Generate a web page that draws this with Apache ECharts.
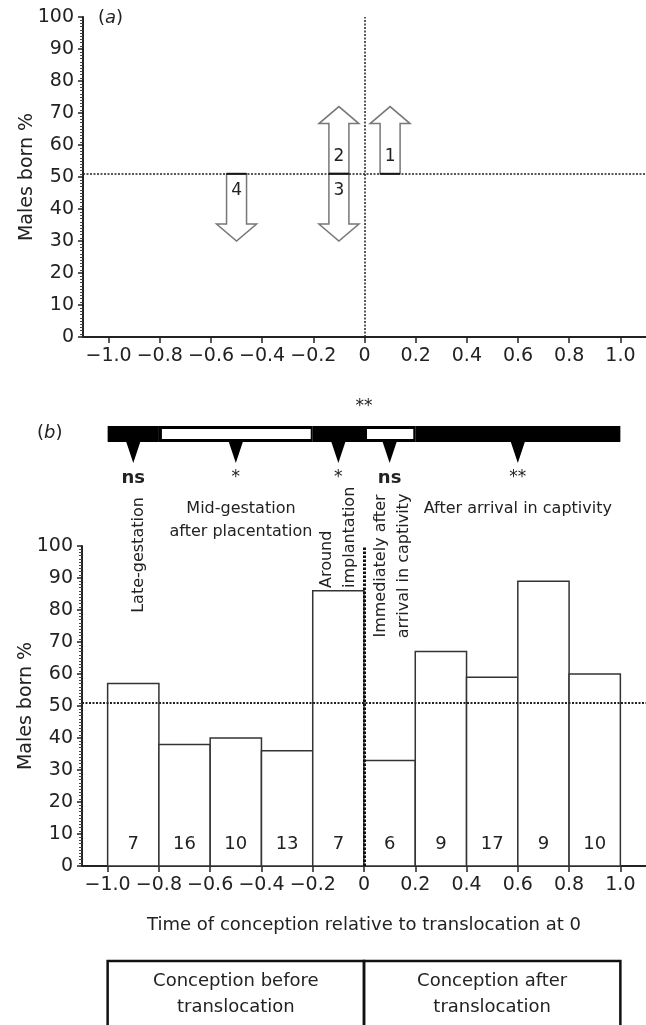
<!DOCTYPE html>
<html><head><meta charset="utf-8">
<script src="https://cdn.jsdelivr.net/npm/echarts@6/dist/echarts.min.js"></script>
<style>html,body{margin:0;padding:0;background:#fff}#c{width:646px;height:1025px}</style>
</head><body><div id="c"></div>
<script>
// ---------- data ----------
const xTickValues = [-1.0, -0.8, -0.6, -0.4, -0.2, 0, 0.2, 0.4, 0.6, 0.8, 1.0];
const xTickLabels = ['−1.0', '−0.8', '−0.6', '−0.4', '−0.2', '0', '0.2', '0.4', '0.6', '0.8', '1.0'];
const parityLevel = 51;

// panel (a): arrows
const arrowX = [0.1, -0.1, -0.1, -0.5];
const arrowFrom = [51, 51, 51, 51];
const arrowTo = [72, 72, 30, 30];
const arrowLabels = ['1', '2', '3', '4'];

// panel (b): histogram bins
const binStart = [-1.0, -0.8, -0.6, -0.4, -0.2, 0, 0.2, 0.4, 0.6, 0.8];
const binEnd = [-0.8, -0.6, -0.4, -0.2, 0, 0.2, 0.4, 0.6, 0.8, 1.0];
const malesPct = [57, 38, 40, 36, 86, 33, 67, 59, 89, 60];
const sampleN = [7, 16, 10, 13, 7, 6, 9, 17, 9, 10];

// panel (b): period bar
const periodStart = [-1.0, -0.8, -0.2, 0, 0.2];
const periodEnd = [-0.8, -0.2, 0, 0.2, 1.0];
const periodShade = ['dark', 'light', 'dark', 'light', 'dark'];
const testX = [-0.9, -0.5, -0.1, 0.1, 0.6];
const testSig = ['ns', '*', '*', 'ns', '**'];
const overallX = [0];
const overallSig = ['**'];
const periodNames = ['Late-gestation', 'Mid-gestation\nafter placentation', 'Around\nimplantation',
  'Immediately after\narrival in captivity', 'After arrival in captivity'];
const periodNameX = [-0.88, -0.48, -0.1, 0.11, 0.6];

// bottom boxes
const groupStart = [-1.0, 0];
const groupEnd = [0, 1.0];
const groupNames = ['Conception before\ntranslocation', 'Conception after\ntranslocation'];

// ---------- style / layout ----------
const FF = 'DejaVu Sans';
const INK = '#222';
const nameLayout = [
  { rot: true, dy: 9, align: 'center' },
  { rot: false, dy: -26, align: 'center' },
  { rot: true, dy: 42, align: 'left' },
  { rot: true, dy: 20, align: 'center' },
  { rot: false, dy: -37, align: 'center' }
];

function xAxisCfg(gridIndex, withName) {
  const a = {
    type: 'value', gridIndex, min: -1.1, max: 1.1,
    axisLine: { show: true, onZero: false, lineStyle: { color: INK, width: 2 } },
    axisTick: { show: true, customValues: xTickValues, length: 6, lineStyle: { color: INK, width: 1.5 } },
    axisLabel: {
      customValues: xTickValues, margin: 10, fontSize: 19, fontFamily: FF, color: INK,
      formatter: v => { const i = xTickValues.findIndex(t => Math.abs(t - v) < 1e-9); return i >= 0 ? xTickLabels[i] : ''; }
    },
    splitLine: { show: false }
  };
  if (withName) {
    a.name = 'Time of conception relative to translocation at 0';
    a.nameLocation = 'middle';
    a.nameGap = 50;
    a.nameMoveOverlap = false;
    a.nameTextStyle = { fontSize: 18, fontFamily: FF, color: INK };
  }
  return a;
}
function yAxisCfg(gridIndex) {
  return {
    type: 'value', gridIndex, min: 0, max: 100, interval: 10,
    name: 'Males born %', nameLocation: 'middle', nameGap: 46, nameMoveOverlap: false,
    nameTextStyle: { fontSize: 19, fontFamily: FF, color: INK },
    axisLine: { show: true, onZero: false, lineStyle: { color: INK, width: 2 } },
    axisTick: { show: true, length: 5, lineStyle: { color: INK, width: 1.5 } },
    minorTick: { show: true, splitNumber: 10, length: 3, lineStyle: { color: '#444', width: 1 } },
    axisLabel: { margin: 9, fontSize: 19, fontFamily: FF, color: INK },
    splitLine: { show: false }, minorSplitLine: { show: false }
  };
}

const chart = echarts.init(document.getElementById('c'), null, { renderer: 'canvas' });

const option = {
  animation: false,
  backgroundColor: '#fff',
  grid: [
    { left: 83, top: 17, width: 565, height: 320 },
    { left: 82, top: 546, width: 566, height: 320 }
  ],
  xAxis: [xAxisCfg(0, false), xAxisCfg(1, true)],
  yAxis: [yAxisCfg(0), yAxisCfg(1)],
  graphic: [
    { type: 'text', left: 98, top: 9, style: { text: '{n|(}{i|a}{n|)}', rich: { n: { fontSize: 18, fontFamily: FF, fill: INK }, i: { fontSize: 18, fontFamily: FF, fontStyle: 'italic', fill: INK } } } },
    { type: 'text', left: 37, top: 424, style: { text: '{n|(}{i|b}{n|)}', rich: { n: { fontSize: 18, fontFamily: FF, fill: INK }, i: { fontSize: 18, fontFamily: FF, fontStyle: 'italic', fill: INK } } } }
  ],
  series: [
    // panel a reference lines
    {
      type: 'line', xAxisIndex: 0, yAxisIndex: 0, data: [], z: 1,
      markLine: {
        silent: true, symbol: ['none', 'none'], label: { show: false }, animation: false,
        lineStyle: { color: INK, width: 1.5, type: [2, 1.5] },
        data: [{ yAxis: parityLevel }, { xAxis: 0 }]
      }
    },
    // panel a arrows
    {
      type: 'custom', xAxisIndex: 0, yAxisIndex: 0, z: 3, clip: false,
      data: arrowX.map((x, i) => [x, arrowFrom[i], arrowTo[i]]),
      encode: { x: 0, y: [1, 2] },
      renderItem(params, api) {
        const i = params.dataIndex;
        const base = api.coord([api.value(0), api.value(1)]);
        const tip = api.coord([api.value(0), api.value(2)]);
        const cx = base[0], yb = base[1], yt = tip[1];
        const s = yt < yb ? 1 : -1;
        const hb = yt + s * 17;
        const sw = 10, hw = 20;
        return {
          type: 'group', children: [
            { type: 'polygon', shape: { points: [[cx - sw, yb], [cx - sw, hb], [cx - hw, hb], [cx, yt], [cx + hw, hb], [cx + sw, hb], [cx + sw, yb]] },
              style: { fill: '#fff', stroke: '#777', lineWidth: 1.5 } },
            { type: 'line', shape: { x1: cx - sw, y1: yb, x2: cx + sw, y2: yb }, style: { stroke: '#111', lineWidth: 2 } },
            { type: 'text', x: cx, y: yb - s * 17, style: { text: arrowLabels[i], align: 'center', verticalAlign: 'middle', fontSize: 17, fontFamily: FF, fill: INK } }
          ]
        };
      }
    },
    // panel b bars
    {
      type: 'custom', xAxisIndex: 1, yAxisIndex: 1, z: 2, clip: false,
      data: binStart.map((s, i) => [s, binEnd[i], malesPct[i], sampleN[i]]),
      encode: { x: [0, 1], y: 2 },
      renderItem(params, api) {
        const p0 = api.coord([api.value(0), api.value(2)]);
        const p1 = api.coord([api.value(1), 0]);
        return {
          type: 'group', children: [
            { type: 'rect', shape: { x: p0[0], y: p0[1], width: p1[0] - p0[0], height: p1[1] - p0[1] },
              style: { fill: '#fff', stroke: '#333', lineWidth: 1.5 } },
            { type: 'text', x: (p0[0] + p1[0]) / 2, y: p1[1] - 22,
              style: { text: String(api.value(3)), align: 'center', verticalAlign: 'middle', fontSize: 18, fontFamily: FF, fill: INK } }
          ]
        };
      }
    },
    // panel b reference lines
    {
      type: 'line', xAxisIndex: 1, yAxisIndex: 1, data: [], z: 6,
      markLine: {
        silent: true, symbol: ['none', 'none'], label: { show: false }, animation: false, z: 6,
        data: [
          { yAxis: parityLevel, lineStyle: { color: INK, width: 2, type: [2, 1.5] } },
          { xAxis: 0, lineStyle: { color: '#111', width: 3, type: [2.5, 1.5] } }
        ]
      }
    },
    // panel b period bar
    {
      type: 'custom', xAxisIndex: 1, yAxisIndex: 1, z: 4, clip: false,
      data: periodStart.map((s, i) => [s, periodEnd[i], periodShade[i] === 'light' ? 1 : 0]),
      encode: { x: [0, 1] },
      renderItem(params, api) {
        const top = api.coord([0, 100])[1] - 120;
        const h = 16;
        const x0 = api.coord([api.value(0), 0])[0];
        const x1 = api.coord([api.value(1), 0])[0];
        const ch = [{ type: 'rect', shape: { x: x0, y: top, width: x1 - x0, height: h }, style: { fill: '#000' } }];
        if (api.value(2) === 1) {
          ch.push({ type: 'rect', shape: { x: x0 + 3, y: top + 3, width: x1 - x0 - 5, height: h - 6 }, style: { fill: '#fff' } });
        }
        return { type: 'group', children: ch };
      }
    },
    // panel b tests: triangles and significance
    {
      type: 'custom', xAxisIndex: 1, yAxisIndex: 1, z: 4, clip: false,
      data: testX.map((x, i) => [x, i]),
      encode: { x: 0 },
      renderItem(params, api) {
        const i = params.dataIndex;
        const top = api.coord([0, 100])[1] - 104;
        const cx = api.coord([api.value(0), 0])[0];
        const sig = testSig[i];
        const bold = sig === 'ns';
        return {
          type: 'group', children: [
            { type: 'polygon', shape: { points: [[cx - 7, top], [cx + 7, top], [cx, top + 21]] }, style: { fill: '#000' } },
            { type: 'text', x: cx, y: top + 36, style: { text: sig, align: 'center', verticalAlign: 'middle',
              fontSize: bold ? 18 : 17, fontWeight: bold ? 'bold' : 'normal', fontFamily: FF, fill: INK } }
          ]
        };
      }
    },
    // overall significance
    {
      type: 'custom', xAxisIndex: 1, yAxisIndex: 1, z: 4, clip: false,
      data: overallX.map((x, i) => [x, i]),
      encode: { x: 0 },
      renderItem(params, api) {
        const cx = api.coord([api.value(0), 0])[0];
        const y = api.coord([0, 100])[1] - 139;
        return { type: 'text', x: cx, y, style: { text: overallSig[params.dataIndex], align: 'center', verticalAlign: 'middle', fontSize: 17, fontFamily: FF, fill: INK } };
      }
    },
    // period names
    {
      type: 'custom', xAxisIndex: 1, yAxisIndex: 1, z: 4, clip: false,
      data: periodNameX.map((x, i) => [x, i]),
      encode: { x: 0 },
      renderItem(params, api) {
        const i = params.dataIndex;
        const L = nameLayout[i];
        const cx = api.coord([api.value(0), 0])[0];
        const y = api.coord([0, 100])[1] + L.dy;
        return {
          type: 'text', x: cx, y, rotation: L.rot ? Math.PI / 2 : 0,
          style: { text: periodNames[i], align: L.align, verticalAlign: 'middle', fontSize: 16, lineHeight: 23, fontFamily: FF, fill: INK }
        };
      }
    },
    // bottom boxes
    {
      type: 'custom', xAxisIndex: 1, yAxisIndex: 1, z: 4, clip: false,
      data: groupStart.map((s, i) => [s, groupEnd[i], i]),
      encode: { x: [0, 1] },
      renderItem(params, api) {
        const i = params.dataIndex;
        const x0 = api.coord([api.value(0), 0])[0];
        const x1 = api.coord([api.value(1), 0])[0];
        const y0 = api.coord([0, 0])[1] + 95;
        return {
          type: 'group', children: [
            { type: 'rect', shape: { x: x0, y: y0, width: x1 - x0, height: 120 }, style: { fill: 'none', stroke: '#111', lineWidth: 2.5 } },
            { type: 'text', x: (x0 + x1) / 2, y: y0 + 33, style: { text: groupNames[i], align: 'center', verticalAlign: 'middle', fontSize: 18, lineHeight: 26, fontFamily: FF, fill: INK } }
          ]
        };
      }
    }
  ]
};
chart.setOption(option);
</script>
</body></html>
